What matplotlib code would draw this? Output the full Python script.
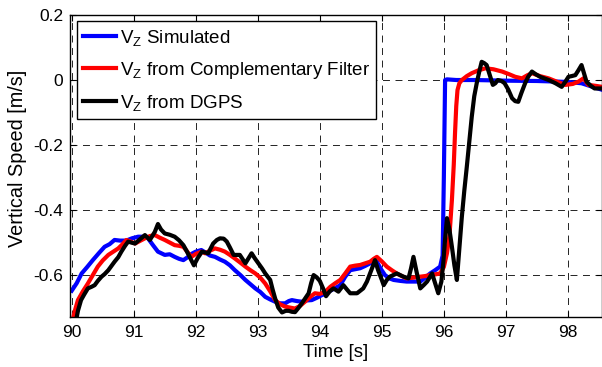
import matplotlib
matplotlib.use("Agg")
import matplotlib.pyplot as plt

plt.rcParams['font.family'] = ['Liberation Sans', 'DejaVu Sans']
plt.rcParams['mathtext.fontset'] = 'custom'
plt.rcParams['mathtext.rm'] = 'Liberation Sans'
plt.rcParams['mathtext.it'] = 'Liberation Sans:italic'
plt.rcParams['axes.unicode_minus'] = False
plt.rcParams['lines.scale_dashes'] = False

# ---- data ----
sim_t = [90.0, 90.08, 90.16, 90.25, 90.34, 90.44, 90.53, 90.61, 90.69, 90.78, 90.88, 90.97,
         91.07, 91.15, 91.23, 91.31, 91.39, 91.5, 91.58, 91.66, 91.73, 91.8, 91.87, 91.93,
         92.0, 92.09, 92.15, 92.23, 92.31, 92.39, 92.47, 92.55, 92.63, 92.72, 92.8, 92.88,
         92.96, 93.04, 93.12, 93.2, 93.28, 93.36, 93.44, 93.5, 93.55, 93.63, 93.71, 93.79,
         93.87, 93.95, 94.03, 94.1, 94.17, 94.25, 94.33, 94.41, 94.49, 94.57, 94.65, 94.73,
         94.81, 94.87, 94.92, 94.98, 95.05, 95.12, 95.19, 95.3, 95.4, 95.5, 95.62, 95.7,
         95.78, 95.86, 95.94, 95.98, 96.0, 96.02, 96.05, 96.2, 96.5, 97.0, 97.5, 97.85,
         98.0, 98.22, 98.35, 98.55]
sim_v = [-0.648, -0.625, -0.595, -0.575, -0.554, -0.532, -0.513, -0.505, -0.492, -0.494, -0.494, -0.487,
         -0.482, -0.482, -0.487, -0.508, -0.528, -0.538, -0.536, -0.544, -0.550, -0.554, -0.545, -0.535,
         -0.528, -0.523, -0.530, -0.540, -0.544, -0.552, -0.559, -0.570, -0.585, -0.600, -0.615, -0.628,
         -0.641, -0.652, -0.667, -0.675, -0.682, -0.687, -0.687, -0.680, -0.677, -0.680, -0.682, -0.678,
         -0.677, -0.670, -0.662, -0.657, -0.648, -0.640, -0.631, -0.605, -0.585, -0.582, -0.579, -0.572,
         -0.564, -0.560, -0.559, -0.580, -0.600, -0.610, -0.615, -0.618, -0.620, -0.620, -0.620, -0.608,
         -0.595, -0.585, -0.574, -0.540, -0.300, 0.000, 0.002, 0.000, 0.000, -0.002, -0.003, -0.005,
         -0.006, -0.010, -0.018, -0.030]

cf_t = [90.0, 90.05, 90.1, 90.18, 90.26, 90.34, 90.42, 90.5, 90.59, 90.67, 90.75, 90.82,
        90.88, 90.95, 91.02, 91.1, 91.18, 91.26, 91.34, 91.42, 91.5, 91.58, 91.66, 91.73,
        91.8, 91.87, 91.93, 92.0, 92.09, 92.15, 92.23, 92.31, 92.39, 92.47, 92.55, 92.63,
        92.72, 92.8, 92.88, 92.96, 93.04, 93.12, 93.2, 93.28, 93.36, 93.44, 93.52, 93.6,
        93.68, 93.76, 93.84, 93.92, 94.0, 94.09, 94.17, 94.25, 94.33, 94.41, 94.49, 94.57,
        94.65, 94.73, 94.81, 94.87, 94.92, 95.0, 95.08, 95.16, 95.24, 95.32, 95.4, 95.5,
        95.62, 95.7, 95.78, 95.86, 95.94, 96.0, 96.05, 96.09, 96.13, 96.16, 96.18, 96.2,
        96.22, 96.25, 96.29, 96.37, 96.45, 96.56, 96.67, 96.8, 96.94, 97.05, 97.15, 97.26,
        97.34, 97.42, 97.55, 97.69, 97.82, 97.96, 98.08, 98.17, 98.25, 98.33, 98.45, 98.55]
cf_v = [-0.750, -0.710, -0.677, -0.650, -0.626, -0.600, -0.574, -0.555, -0.538, -0.528, -0.518, -0.505,
        -0.492, -0.497, -0.503, -0.495, -0.487, -0.480, -0.477, -0.485, -0.492, -0.500, -0.508, -0.510,
        -0.513, -0.530, -0.544, -0.535, -0.528, -0.533, -0.525, -0.518, -0.522, -0.528, -0.538, -0.549,
        -0.562, -0.574, -0.585, -0.595, -0.608, -0.626, -0.650, -0.677, -0.690, -0.697, -0.700, -0.703,
        -0.695, -0.682, -0.668, -0.656, -0.658, -0.651, -0.636, -0.625, -0.615, -0.595, -0.574, -0.571,
        -0.569, -0.564, -0.559, -0.550, -0.544, -0.558, -0.574, -0.585, -0.595, -0.603, -0.610, -0.608,
        -0.605, -0.603, -0.600, -0.598, -0.595, -0.575, -0.533, -0.480, -0.369, -0.260, -0.164, -0.080,
        -0.031, -0.010, 0.000, 0.012, 0.021, 0.030, 0.036, 0.033, 0.026, 0.018, 0.010, 0.005,
        0.014, 0.021, 0.012, 0.005, -0.005, -0.015, -0.012, -0.005, 0.005, -0.015, -0.018, -0.021]

gps_t = [90.07, 90.1, 90.15, 90.2, 90.26, 90.32, 90.37, 90.42, 90.48, 90.53, 90.59, 90.64,
         90.69, 90.75, 90.8, 90.86, 90.91, 90.96, 91.02, 91.1, 91.18, 91.26, 91.34, 91.39,
         91.44, 91.5, 91.58, 91.66, 91.73, 91.8, 91.85, 91.9, 91.97, 92.03, 92.1, 92.2,
         92.28, 92.34, 92.39, 92.45, 92.5, 92.55, 92.61, 92.71, 92.8, 92.9, 92.95, 93.01,
         93.07, 93.12, 93.2, 93.24, 93.28, 93.33, 93.39, 93.45, 93.5, 93.55, 93.6, 93.66,
         93.71, 93.77, 93.82, 93.86, 93.9, 93.95, 94.0, 94.05, 94.1, 94.16, 94.22, 94.3,
         94.38, 94.44, 94.49, 94.6, 94.7, 94.76, 94.81, 94.85, 94.89, 94.94, 95.0, 95.03,
         95.08, 95.13, 95.24, 95.35, 95.43, 95.47, 95.51, 95.56, 95.62, 95.68, 95.73, 95.81,
         95.86, 95.91, 95.96, 95.99, 96.02, 96.05, 96.09, 96.13, 96.17, 96.21, 96.25, 96.29,
         96.33, 96.37, 96.41, 96.45, 96.49, 96.53, 96.57, 96.61, 96.65, 96.69, 96.74, 96.79,
         96.83, 96.87, 96.93, 96.98, 97.04, 97.1, 97.15, 97.2, 97.25, 97.31, 97.36, 97.42,
         97.48, 97.55, 97.62, 97.69, 97.8, 97.9, 97.96, 98.01, 98.06, 98.12, 98.17, 98.22,
         98.26, 98.3, 98.37, 98.43, 98.55]
gps_v = [-0.740, -0.710, -0.677, -0.660, -0.641, -0.636, -0.631, -0.618, -0.605, -0.597, -0.585, -0.572,
         -0.559, -0.545, -0.528, -0.510, -0.497, -0.500, -0.503, -0.490, -0.477, -0.492, -0.467, -0.443,
         -0.460, -0.472, -0.476, -0.482, -0.493, -0.508, -0.525, -0.544, -0.570, -0.548, -0.528, -0.533,
         -0.503, -0.492, -0.487, -0.488, -0.497, -0.515, -0.538, -0.538, -0.564, -0.533, -0.548, -0.564,
         -0.580, -0.595, -0.615, -0.645, -0.672, -0.700, -0.715, -0.710, -0.710, -0.713, -0.714, -0.700,
         -0.687, -0.670, -0.656, -0.625, -0.600, -0.607, -0.618, -0.640, -0.665, -0.650, -0.641, -0.651,
         -0.631, -0.645, -0.656, -0.656, -0.641, -0.620, -0.595, -0.575, -0.554, -0.585, -0.615, -0.631,
         -0.615, -0.605, -0.595, -0.605, -0.610, -0.580, -0.544, -0.590, -0.641, -0.630, -0.620, -0.595,
         -0.625, -0.656, -0.620, -0.564, -0.490, -0.425, -0.460, -0.513, -0.570, -0.615, -0.520, -0.421,
         -0.340, -0.267, -0.190, -0.113, -0.050, -0.010, 0.025, 0.056, 0.052, 0.046, 0.015, -0.015,
         -0.010, 0.000, -0.003, -0.010, -0.030, -0.056, -0.065, -0.067, -0.040, -0.010, 0.010, 0.026,
         0.018, 0.010, 0.005, 0.000, -0.010, -0.021, -0.005, 0.010, 0.012, 0.015, 0.030, 0.046,
         0.020, -0.005, -0.018, -0.026, -0.026]

labels = [r'V$_{\rm Z}$ Simulated', r'V$_{\rm Z}$ from Complementary Filter', r'V$_{\rm Z}$ from DGPS']
colors = ['#0000ff', '#ff0000', '#000000']
x_ticks = [90, 91, 92, 93, 94, 95, 96, 97, 98]
y_ticks = [-0.6, -0.4, -0.2, 0, 0.2]
y_tick_labels = ['-0.6', '-0.4', '-0.2', '0', '0.2']

# ---- figure ----
fig = plt.figure(figsize=(6.02, 3.67), dpi=100)
ax = fig.add_axes([70 / 602, 50 / 367, 532 / 602, 302 / 367])

lw = 3.0
ax.plot(sim_t, sim_v, color=colors[0], lw=lw, label=labels[0], solid_joinstyle='round')
ax.plot(cf_t, cf_v, color=colors[1], lw=lw, label=labels[1], solid_joinstyle='round')
ax.plot(gps_t, gps_v, color=colors[2], lw=lw, label=labels[2], solid_joinstyle='round')

ax.set_xlim(89.972, 98.55)
ax.set_ylim(-0.729, 0.2)
ax.set_xticks(x_ticks)
ax.set_xticklabels([str(t) for t in x_ticks])
ax.set_yticks(y_ticks)
ax.set_yticklabels(y_tick_labels)

ax.grid(True, color='black', linestyle=(0, (5, 4)), linewidth=0.6)
ax.tick_params(direction='in', length=4, width=0.8, top=True, right=True,
               labelsize=12.5, colors='black')
ax.tick_params(axis='x', pad=6)
ax.tick_params(axis='y', pad=5)
for s in ax.spines.values():
    s.set_linewidth(1.0)
    s.set_color('black')

ax.set_xlabel('Time [s]', fontsize=13.3)
ax.set_ylabel('Vertical Speed [m/s]', fontsize=14.3)
ax.xaxis.set_label_coords(0.5, -0.117)
ax.yaxis.set_label_coords(-0.099, 0.525)
ax.xaxis.label.set_va('center')
ax.yaxis.label.set_va('center')

leg = ax.legend(loc='upper left', bbox_to_anchor=(0.013, 0.979), borderaxespad=0,
                fontsize=13.5, handlelength=1.76, handletextpad=0.18, borderpad=0.35,
                labelspacing=0.64, fancybox=False, framealpha=1, edgecolor='black')
leg.get_frame().set_linewidth(1.0)

fig.savefig('out.png', dpi=100)
